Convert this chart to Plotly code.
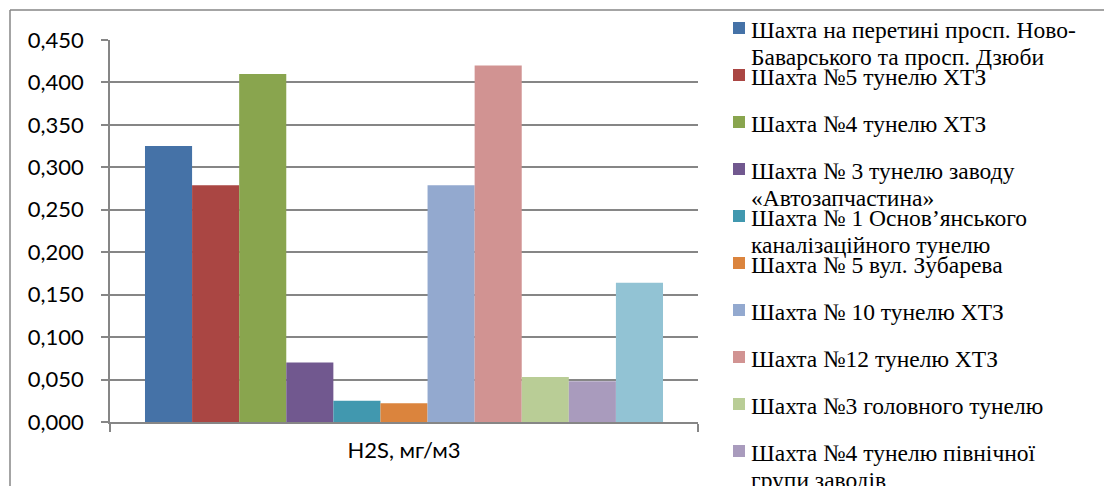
import plotly.graph_objects as go

# H2S concentration per shaft, mg/m3
category = "H2S, мг/м3"
shafts = [
    "Шахта на перетині просп. Ново-<br>Баварського та просп. Дзюби",
    "Шахта №5 тунелю ХТЗ",
    "Шахта №4 тунелю ХТЗ",
    "Шахта № 3 тунелю заводу<br>«Автозапчастина»",
    "Шахта № 1 Основ’янського<br>каналізаційного тунелю",
    "Шахта № 5 вул. Зубарева",
    "Шахта № 10 тунелю ХТЗ",
    "Шахта №12 тунелю ХТЗ",
    "Шахта №3 головного тунелю",
    "Шахта №4 тунелю північної<br>групи заводів",
    "Шахта №11",
]
h2s = [0.325, 0.279, 0.410, 0.070, 0.025, 0.022, 0.279, 0.420, 0.053, 0.048, 0.164]
colors = ["#4572A7", "#AA4643", "#89A54E", "#71588F", "#4198AF", "#DB843D",
          "#93A9CF", "#D19392", "#B9CD96", "#A99BBD", "#92C3D4"]
y_ticks = [0.0, 0.05, 0.10, 0.15, 0.20, 0.25, 0.30, 0.35, 0.40, 0.45]
legend_rows = 10  # entries that fit in the frame

W, H = 1104, 486
L, R, T, B = 110, 698, 40, 422  # plot-area pixel box
GRID = "#868686"

def px(x):
    return (x - L) / (R - L)

def py(y):
    return (B - y) / (B - T)

fig = go.Figure()
for name, val, col in zip(shafts, h2s, colors):
    fig.add_trace(go.Bar(x=[category], y=[val], name=name.replace("<br>", " "),
                         marker=dict(color=col, line=dict(width=0)),
                         showlegend=False))

shapes = [
    # outer chart frame (top and left edges)
    dict(type="line", xref="paper", yref="paper", x0=px(10), x1=px(W + 5),
         y0=py(10), y1=py(10), line=dict(color=GRID, width=1.5)),
    dict(type="line", xref="paper", yref="paper", x0=px(10), x1=px(10),
         y0=py(10), y1=py(H + 5), line=dict(color=GRID, width=1.5)),
]
annotations = []
for k in range(legend_rows):
    base = 37 + 47 * k
    cy = base - 9
    shapes.append(dict(type="rect", xref="paper", yref="paper",
                       x0=px(733), x1=px(745), y0=py(cy - 6), y1=py(cy + 6),
                       fillcolor=colors[k], line=dict(width=0)))
    # each wrapped line is placed separately with a tight line pitch
    for j, line in enumerate(shafts[k].split("<br>")):
        annotations.append(dict(xref="paper", yref="paper", x=px(749),
                                y=py(base + 27 * j - 22),
                                xanchor="left", yanchor="top", align="left",
                                text=line, showarrow=False,
                                font=dict(family="Liberation Serif", size=23.5,
                                          color="black")))

fig.update_layout(
    width=W, height=H,
    margin=dict(l=L, r=W - R, t=T, b=H - B),
    paper_bgcolor="white", plot_bgcolor="white",
    barmode="group", bargap=0.119, bargroupgap=0,
    separators=", ",
    font=dict(family="Lato", size=22, color="black"),
    shapes=shapes, annotations=annotations,
    xaxis=dict(type="category", tickson="boundaries", ticks="outside", ticklen=8,
               tickcolor=GRID, tickwidth=1.5, showline=True, linecolor=GRID,
               linewidth=1.5, showgrid=False, ticklabelstandoff=8),
    yaxis=dict(range=[0, 0.45], tickvals=y_ticks, tickformat=".3f",
               ticks="outside", ticklen=7, tickcolor=GRID, tickwidth=1.5,
               showline=True, linecolor=GRID, linewidth=1.5,
               showgrid=True, gridcolor=GRID, gridwidth=1.5, zeroline=False,
               ticklabelstandoff=13),
)

fig.write_html("out.html")
